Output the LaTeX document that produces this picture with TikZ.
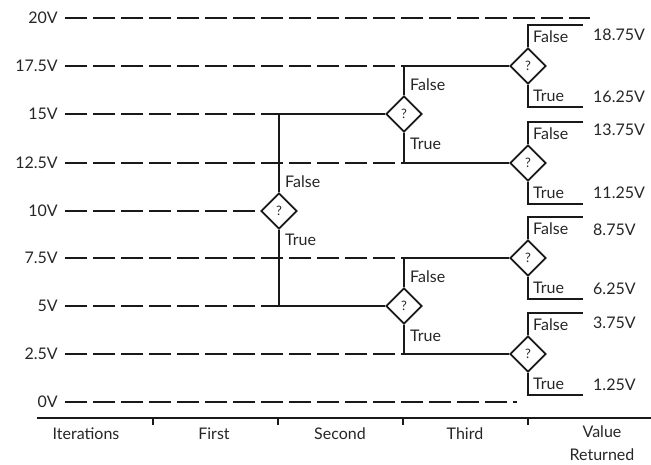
\documentclass[tikz,border=0pt]{standalone}
\usepackage{fontspec}
\setmainfont{Lato}
\usetikzlibrary{shapes.geometric,calc}
\tikzset{
  px/.style={x=1pt,y=-1pt},
  vlab/.style={anchor=east,inner sep=0pt,font=\fontsize{16}{20}\selectfont,text=black!85},
  lab/.style={anchor=west,inner sep=0pt,font=\fontsize{16}{20}\selectfont,text=black!85},
  axlab/.style={inner sep=0pt,font=\fontsize{16}{20}\selectfont,text=black!85,align=center},
  dec/.style={diamond,draw=black!90,line width=1.7pt,minimum width=36pt,minimum height=36pt,inner sep=0pt,font=\fontsize{13}{14}\selectfont,text=black!85},
  dsh/.style={line width=1.7pt,dash pattern=on 22pt off 6pt,draw=black!90},
  sol/.style={line width=1.7pt,draw=black!90},
  ans/.style={line width=1.4pt,draw=black!90},
}
\begin{document}
\begin{tikzpicture}[px]
\useasboundingbox (0,0) rectangle (651,464);
% voltage labels
\node[vlab] (l20) at (58,18) {20V};
\node[vlab] (l175) at (58,66) {17.5V};
\node[vlab] (l15) at (58,114) {15V};
\node[vlab] (l125) at (58,163) {12.5V};
\node[vlab] (l10) at (58,211) {10V};
\node[vlab] (l75) at (58,258) {7.5V};
\node[vlab] (l5) at (58,306) {5V};
\node[vlab] (l25) at (58,354) {2.5V};
\node[vlab] (l0) at (58,402) {0V};
% decision diamonds
\node[dec] (d1) at (279,211) {?};
\node[dec] (d2a) at (404,114) {?};
\node[dec] (d2b) at (404,306) {?};
\node[dec] (d3a) at (528,66) {?};
\node[dec] (d3b) at (528,163) {?};
\node[dec] (d3c) at (528,258) {?};
\node[dec] (d3d) at (528,354) {?};
% junction coordinates
\coordinate (j15) at (279,114);
\coordinate (j5) at (279,306);
\coordinate (j175) at (404,66);
\coordinate (j125) at (404,163);
\coordinate (j75) at (404,258);
\coordinate (j25) at (404,354);
\coordinate (e20) at (590,18);
\coordinate (e0) at (517,402);
% dashed lines
\draw[dsh] ([xshift=7pt]l20.east) -- (e20);
\draw[dsh] ([xshift=7pt]l175.east) -- (j175);
\draw[dsh] ([xshift=7pt]l15.east) -- (j15);
\draw[dsh] ([xshift=7pt]l125.east) -- (j125);
\draw[dsh] ([xshift=7pt]l10.east) -- (d1.west);
\draw[dsh] ([xshift=7pt]l75.east) -- (j75);
\draw[dsh] ([xshift=7pt]l5.east) -- (j5);
\draw[dsh] ([xshift=7pt]l25.east) -- (j25);
\draw[dsh] ([xshift=7pt]l0.east) -- (e0);
% tree connectors
\draw[sol] (d1.north) -- (j15) -- (d2a.west);
\draw[sol] (d1.south) -- (j5) -- (d2b.west);
\draw[sol] (d2a.north) -- (j175) -- (d3a.west);
\draw[sol] (d2a.south) -- (j125) -- (d3b.west);
\draw[sol] (d2b.north) -- (j75) -- (d3c.west);
\draw[sol] (d2b.south) -- (j25) -- (d3d.west);
% answer brackets
\foreach \d/\y in {d3a/66,d3b/163,d3c/258,d3d/354}{
  \coordinate (\d F) at (583,\y-41);
  \coordinate (\d T) at (583,\y+41);
  \draw[ans] (\d.north) |- (\d F);
  \draw[ans] (\d.south) |- (\d T);
  \node[lab] (\d fl) at (533,\y-29) {False};
  \node[lab] (\d tl) at (533,\y+30) {True};
}
% branch labels of levels 1 and 2
\node[lab] (d1f) at (285,182) {False};
\node[lab] (d1t) at (285,240) {True};
\node[lab] (d2af) at (410,85) {False};
\node[lab] (d2at) at (410,144) {True};
\node[lab] (d2bf) at (410,277) {False};
\node[lab] (d2bt) at (410,336) {True};
% returned values
\node[lab] (v1) at (593,35) {18.75V};
\node[lab] (v2) at (593,97) {16.25V};
\node[lab] (v3) at (593,130) {13.75V};
\node[lab] (v4) at (593,193) {11.25V};
\node[lab] (v5) at (593,230) {8.75V};
\node[lab] (v6) at (593,289) {6.25V};
\node[lab] (v7) at (593,323) {3.75V};
\node[lab] (v8) at (593,385) {1.25V};
% axis
\coordinate (a0) at (37,418);
\coordinate (a1) at (651,418);
\draw[sol] (a0) -- (a1);
\foreach \x in {153,278,403,528}{
  \coordinate (t\x) at (\x,418);
  \draw[sol] (t\x) -- ++(0,7);
}
\node[axlab] (it) at (86,434) {Iterations};
\node[axlab] (fi) at (214,434) {First};
\node[axlab] (se) at (340,434) {Second};
\node[axlab] (th) at (465,434) {Third};
\node[axlab,anchor=north] (vr) at (602,426) {Value\\[3pt]Returned};
\end{tikzpicture}
\end{document}
